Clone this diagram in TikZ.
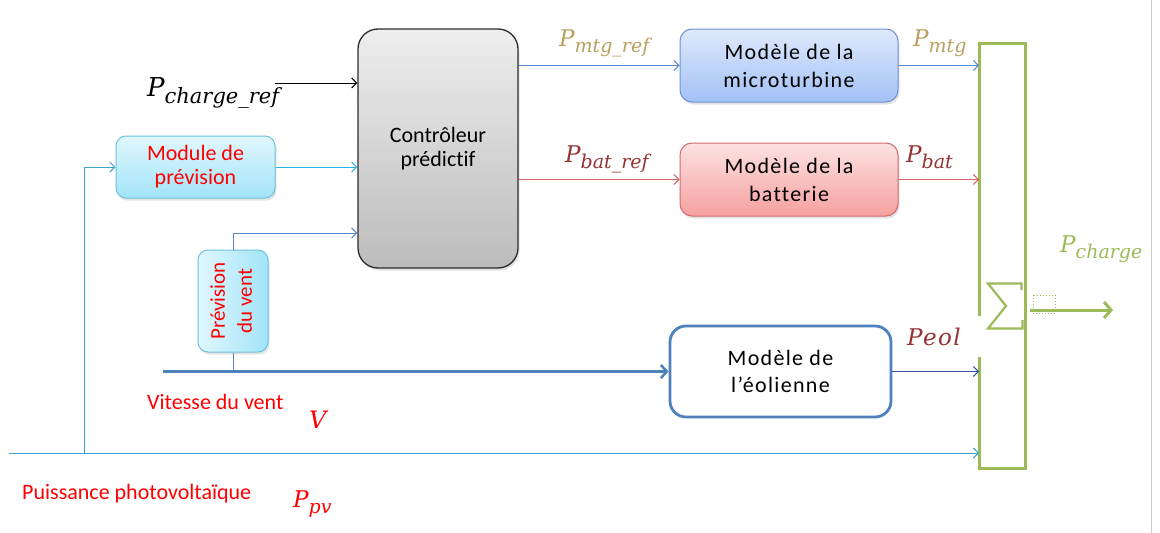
\documentclass[tikz,border=0pt]{standalone}
\usepackage{fontspec}
\setmainfont{Carlito}[Ligatures=NoCommon]
\newfontfamily\mathlike{DejaVu Serif}
\usetikzlibrary{arrows.meta,shadows}
\definecolor{ctrlTop}{RGB}{238,238,238}
\definecolor{ctrlBot}{RGB}{188,188,188}
\definecolor{ctrlBorder}{RGB}{45,45,45}
\definecolor{cyTop}{RGB}{225,247,253}
\definecolor{cyBot}{RGB}{162,228,248}
\definecolor{cyBorder}{RGB}{110,195,220}
\definecolor{mtTop}{RGB}{223,233,252}
\definecolor{mtBot}{RGB}{163,193,245}
\definecolor{mtBorder}{RGB}{110,147,210}
\definecolor{btTop}{RGB}{253,226,226}
\definecolor{btBot}{RGB}{246,160,160}
\definecolor{btBorder}{RGB}{212,106,106}
\definecolor{eolBlue}{RGB}{79,129,189}
\definecolor{sumGreen}{RGB}{155,187,89}
\definecolor{goldLab}{RGB}{185,160,95}
\definecolor{redLab}{RGB}{150,50,50}
\definecolor{lineBlue}{RGB}{88,138,210}
\definecolor{lineRed}{RGB}{215,100,100}
\definecolor{lineCyan}{RGB}{60,165,200}
\definecolor{lineCyan2}{RGB}{40,180,235}
\definecolor{lineDark}{RGB}{50,85,150}
\newcommand{\PS}[4]{{\fontsize{#1}{#1}\selectfont\mathlike\itshape #3\raisebox{-0.28em}{\fontsize{#2}{#2}\selectfont #4}}}
\begin{document}
\begin{tikzpicture}[x=1pt,y=-1pt,
  shad/.style={drop shadow={opacity=0.22,shadow xshift=1.5pt,shadow yshift=-2.5pt}},
  ctrlbox/.style={shad,rounded corners=20pt,draw=ctrlBorder,line width=1.3pt,top color=ctrlTop,bottom color=ctrlBot,
    minimum width=160pt,minimum height=239pt,inner sep=0pt,align=center,font=\fontsize{22}{24}\selectfont},
  modbox/.style={shad,rounded corners=10pt,draw=cyBorder,line width=1pt,top color=cyTop,bottom color=cyBot,
    minimum width=159pt,minimum height=62pt,inner sep=0pt,align=center,text=red,font=\fontsize{22}{24}\selectfont},
  prevbox/.style={shad,rounded corners=10pt,draw=cyBorder,line width=1pt,left color=cyTop,right color=cyBot,
    minimum width=70pt,minimum height=102pt,inner sep=0pt,text=red,font=\fontsize{21}{27}\selectfont},
  mtbox/.style={shad,rounded corners=12pt,draw=mtBorder,line width=1pt,top color=mtTop,bottom color=mtBot,
    minimum width=218pt,minimum height=73pt,inner sep=0pt,align=center,font=\fontsize{22}{28}\selectfont\addfontfeature{LetterSpace=6}},
  batbox/.style={shad,rounded corners=12pt,draw=btBorder,line width=1pt,top color=btTop,bottom color=btBot,
    minimum width=218pt,minimum height=73pt,inner sep=0pt,align=center,font=\fontsize{22}{28}\selectfont\addfontfeature{LetterSpace=6}},
  eolbox/.style={rounded corners=16pt,draw=eolBlue,line width=2.8pt,fill=white,
    minimum width=221pt,minimum height=91pt,inner sep=0pt,align=center,font=\fontsize{22}{27}\selectfont\addfontfeature{LetterSpace=6}},
  lab/.style={inner sep=0pt,anchor=base west},
  arr/.style={-{Straight Barb[length=5pt,width=10pt]},line width=1pt},
  windarr/.style={-{Straight Barb[length=6pt,width=13pt,line width=2.5pt]},line width=3pt,draw=eolBlue},
  sumline/.style={draw=sumGreen,line width=3pt}]

\useasboundingbox (0,0) rectangle (1160,533);
\fill[white] (0,0) rectangle (1160,533);
\draw[gray!40,line width=0.8pt] (1151,0) -- (1151,533);

% blocks
\node[ctrlbox] (ctrl) at (438,148.5) {Contrôleur\\prédictif};
\node[modbox] (mod) at (195.5,167) {Module de\\prévision};
\node[prevbox] (prev) at (233,301) {\rotatebox{90}{\begin{tabular}{@{}c@{}}Prévision\\du vent\end{tabular}}};
\node[mtbox] (mt) at (789,65.5) {Modèle de la\\microturbine};
\node[batbox] (bat) at (789,179.5) {Modèle de la\\batterie};
\node[eolbox] (eol) at (780.5,371.5) {Modèle de\\l’éolienne};

% summation bar
\coordinate (sumL) at (979,0);
\draw[sumline] (979,316) -- (979,43) -- (1025,43) -- (1025,468) -- (979,468) -- (979,357);
% summation sign
\draw[sumGreen,line width=2.2pt,miter limit=3] (1021.5,290) -- (1021.5,283.5) -- (988,283.5) -- (1006,306) -- (988,328.5) -- (1022.5,328.5) -- (1022.5,320);
\coordinate (outA) at (1030,310);
\coordinate (outB) at (1113,310);
\draw[sumGreen,line width=3pt,-{Straight Barb[length=7pt,width=16pt,line width=3pt]}] (outA) -- (outB);
\draw[sumGreen,dotted,line width=1pt] (1033,295) rectangle (1055,313);

% labels
\node[lab] (lcref) at (147,96) {\PS{26}{21}{P}{charge\_ref}};
\node[lab,text=goldLab] (lmtref) at (559,46) {\PS{23}{19}{P}{mtg\_ref}};
\node[lab,text=redLab] (lbtref) at (565,162) {\PS{23}{19}{P}{bat\_ref}};
\node[lab,text=goldLab] (lmt) at (913,46) {\PS{23}{19}{P}{mtg}};
\node[lab,text=redLab] (lbt) at (906,162) {\PS{23}{19}{P}{bat}};
\node[lab,text=redLab] (leol) at (907,345) {{\fontsize{23}{23}\selectfont\mathlike\itshape\addfontfeature{LetterSpace=6}Peol}};
\node[lab,text=sumGreen] (lch) at (1060,252) {\PS{23}{19}{P}{charge}};
\node[lab,text=red,font=\fontsize{22}{24}\selectfont] (lvit) at (147,409) {Vitesse du vent};
\node[lab,text=red] (lv) at (309,428) {\PS{24}{19}{V}{}};
\node[lab,text=red,font=\fontsize{22}{24}\selectfont] (lpuis) at (22,499) {Puissance photovoltaïque};
\node[lab,text=red] (lpv) at (293,507) {\PS{23}{19}{P}{pv}};

% connectors
\coordinate (cref) at (275,83);
\draw[arr,black] (cref) -- (cref -| ctrl.west);
\draw[arr,lineCyan2] (mod.east) -- (mod.east -| ctrl.west);
\coordinate (pvA) at (9,453);
\coordinate (pvBr) at (84,453);
\draw[arr,lineCyan] (pvA) -- (pvA -| sumL);
\draw[arr,lineCyan] (pvBr) |- (mod.west);
\coordinate (prevup) at (233,233);
\draw[arr,lineBlue] (prev.north) -- (prevup) -- (prevup -| ctrl.west);
\coordinate (wA) at (163,371.5);
\draw[lineBlue,line width=1pt] (prev.south) -- (prev.south |- wA);
\draw[windarr] (wA) -- (eol.west);
\draw[arr,lineBlue] (ctrl.east |- mt.west) -- (mt.west);
\draw[arr,lineRed] (ctrl.east |- bat.west) -- (bat.west);
\draw[arr,lineBlue] (mt.east) -- (mt.east -| sumL);
\draw[arr,lineRed] (bat.east) -- (bat.east -| sumL);
\draw[arr,lineDark] (eol.east) -- (eol.east -| sumL);
\end{tikzpicture}
\end{document}
